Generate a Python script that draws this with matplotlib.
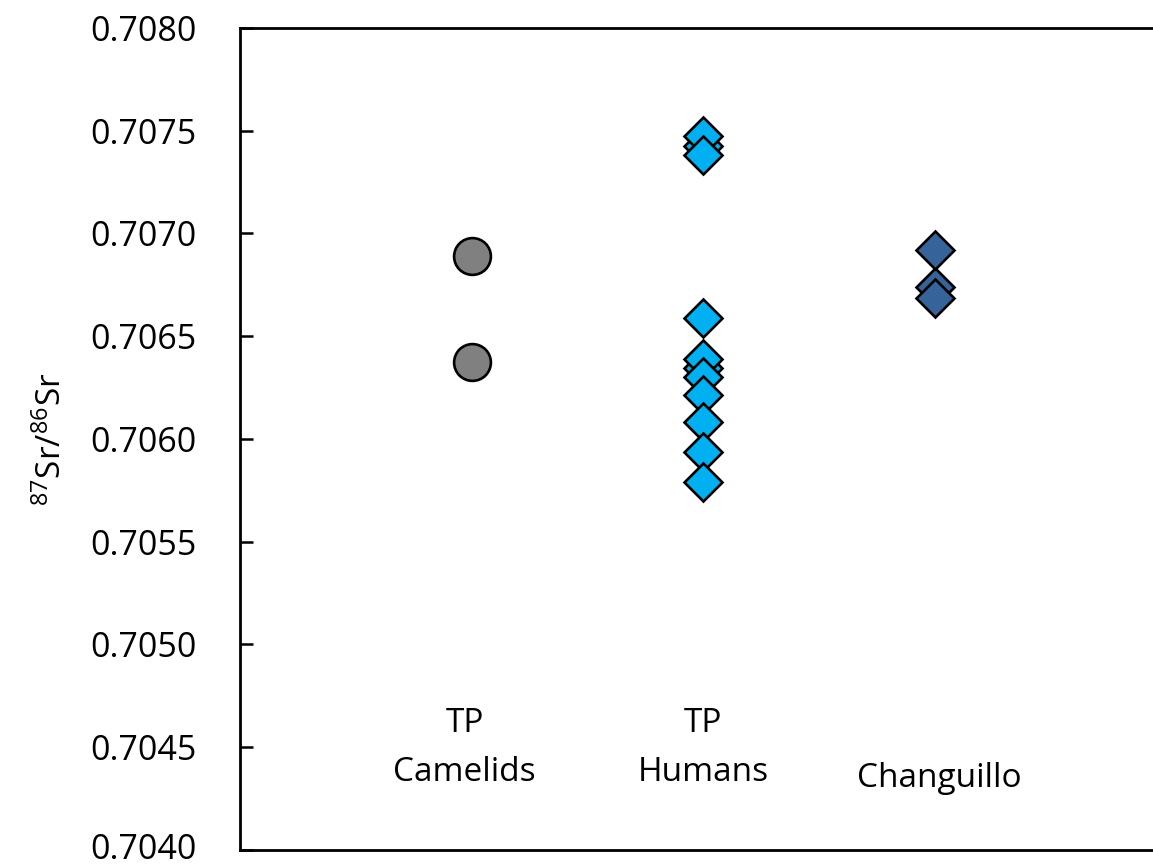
import matplotlib
matplotlib.use("Agg")
import matplotlib.pyplot as plt
from matplotlib.transforms import ScaledTranslation

plt.rcParams['font.family'] = ['Open Sans', 'DejaVu Sans']
plt.rcParams['mathtext.fontset'] = 'custom'
plt.rcParams['mathtext.rm'] = 'Open Sans'
plt.rcParams['mathtext.it'] = 'Open Sans'

# Data
camelids = [0.70689, 0.706375]
humans = [0.707426, 0.706345, 0.707474, 0.706389, 0.707382, 0.706302,
          0.706589, 0.706214, 0.706083, 0.705937, 0.705791]
changuillo = [0.70674, 0.706686, 0.70692]
group_x = [1, 2, 3]
group_labels = ["TP\nCamelids", "TP\nHumans", "Changuillo"]
yticks = [0.7040, 0.7045, 0.7050, 0.7055, 0.7060, 0.7065, 0.7070, 0.7075, 0.7080]

fig = plt.figure(figsize=(11.53, 8.66), dpi=100)
ax = fig.add_axes([0.2082, 0.0185, 0.8031, 0.9492])

ax.plot([group_x[0]] * len(camelids), camelids, linestyle='none', marker='o',
        markersize=26.5, markerfacecolor='#808080', markeredgecolor='black',
        markeredgewidth=1.9)
ax.plot([group_x[1]] * len(humans), humans, linestyle='none', marker='D',
        markersize=19.5, markerfacecolor='#00B0F0', markeredgecolor='black',
        markeredgewidth=1.9)
ax.plot([group_x[2]] * len(changuillo), changuillo, linestyle='none', marker='D',
        markersize=19.5, markerfacecolor='#36649A', markeredgecolor='black',
        markeredgewidth=1.9)

ax.set_xlim(0, 4)
ax.set_ylim(0.7040, 0.7080)
ax.set_yticks(yticks)
ax.set_yticklabels([f"{v:.4f}" for v in yticks])
ax.set_xticks([])
ax.tick_params(axis='y', direction='in', length=9, width=1.8, pad=31,
               labelsize=24.5)

for s in ['left', 'top', 'bottom']:
    ax.spines[s].set_linewidth(2)
ax.spines['right'].set_visible(False)

label_dx = [-0.03, 0.0, 0.02]
label_y = [0.704495, 0.704495, 0.70435]
for x, dx, lab, ly in zip(group_x, label_dx, group_labels, label_y):
    ax.text(x + dx, ly, lab, ha='center', va='center', fontsize=24,
            linespacing=1.65)

ax.set_ylabel(r'$^{87}$Sr/$^{86}$Sr', fontsize=24, labelpad=16)

# nudge the lowest tick label up a little so it stays inside the figure
fig.canvas.draw()
low = ax.yaxis.get_major_ticks()[0].label1
low.set_transform(low.get_transform() + ScaledTranslation(0, 4 / 100, fig.dpi_scale_trans))

fig.savefig("out.png", dpi=100)
